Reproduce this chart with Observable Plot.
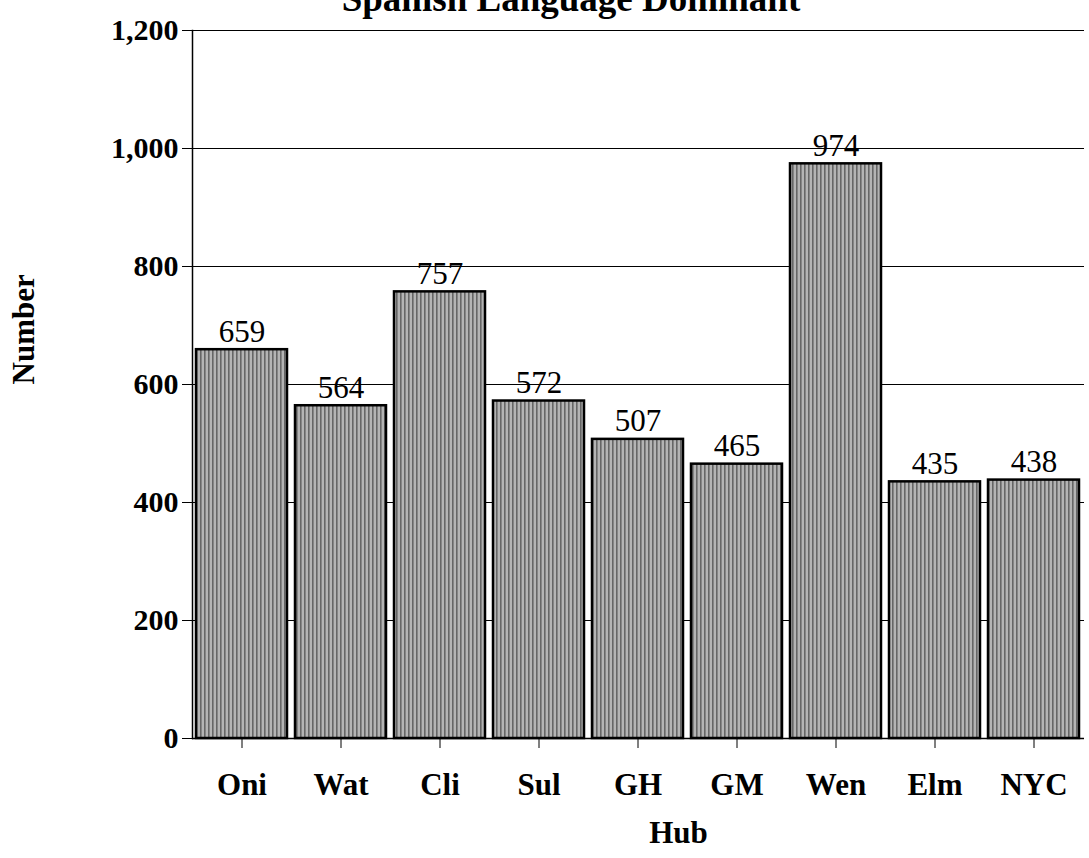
<!DOCTYPE html>
<html>
<head>
<meta charset="utf-8">
<script src="https://cdn.jsdelivr.net/npm/d3@7"></script>
<script src="https://cdn.jsdelivr.net/npm/@observablehq/plot@0.6"></script>
<style>
  html, body { margin: 0; padding: 0; background: white; overflow: hidden; }
  #chart { position: relative; width: 1089px; height: 858px; }
  #title { position: absolute; left: 0; width: 1142px; top: -20px; text-align: center;
           font-family: "Liberation Serif", serif; font-weight: bold; font-size: 37px; line-height: 37px; }
</style>
</head>
<body>
<div id="chart"><div id="title">Spanish Language Dominant</div></div>
<script>
const hubs = ["Oni", "Wat", "Cli", "Sul", "GH", "GM", "Wen", "Elm", "NYC"];
const counts = [659, 564, 757, 572, 507, 465, 974, 435, 438];
const yTicks = [0, 200, 400, 600, 800, 1000, 1200];
const xLabel = "Hub";
const yLabel = "Number";

const data = hubs.map((h, i) => ({hub: h, value: counts[i]}));

const plot = Plot.plot({
  width: 1089,
  height: 858,
  marginLeft: 192,
  marginRight: 5,
  marginTop: 30,
  marginBottom: 120,
  style: {fontFamily: "Liberation Serif, serif", fontSize: "30px", color: "black", background: "white"},
  x: {domain: hubs, paddingInner: 0.08, paddingOuter: 0.04, label: null},
  y: {domain: [0, 1200], label: null},
  marks: [
    Plot.gridY(yTicks, {stroke: "black", strokeOpacity: 1, strokeWidth: 1.2}),
    Plot.barY(data, {x: "hub", y: "value", fill: "url(#stripes)", stroke: "black", strokeWidth: 2.5}),
    Plot.text(data, {x: "hub", y: "value", text: d => String(d.value), dy: -8, lineAnchor: "bottom", fontSize: 31}),
    Plot.ruleY([0], {stroke: "black", strokeWidth: 1.5}),
    Plot.axisY({ticks: yTicks, tickFormat: d3.format(","), tickSize: 10, tickPadding: 4, fontSize: 30, fontWeight: "bold", label: null}),
    Plot.axisX({tickSize: 10, tickPadding: 24, fontSize: 31, fontWeight: "bold", label: null}),
    Plot.frame({anchor: "left", stroke: "black", strokeWidth: 1.5}),
    Plot.text([xLabel], {frameAnchor: "bottom", dy: 104, dx: 40, fontSize: 31, fontWeight: "bold"}),
    Plot.text([yLabel], {frameAnchor: "left", dx: -168, rotate: -90, fontSize: 31, fontWeight: "bold"})
  ]
});

const ns = "http://www.w3.org/2000/svg";
const defs = document.createElementNS(ns, "defs");
defs.innerHTML = '<pattern id="stripes" width="4" height="10" patternUnits="userSpaceOnUse">' +
  '<rect width="4" height="10" fill="#b4b4b4"/><rect width="1.6" height="10" fill="#666"/></pattern>';
plot.insertBefore(defs, plot.firstChild);

document.getElementById("chart").appendChild(plot);
</script>
</body>
</html>
